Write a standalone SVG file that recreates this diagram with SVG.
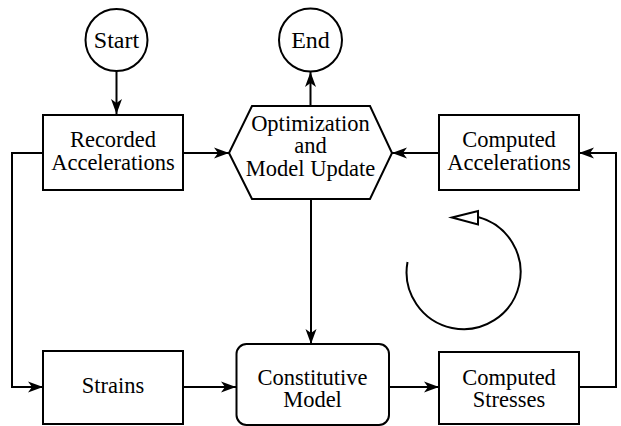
<svg xmlns="http://www.w3.org/2000/svg" width="621" height="426" viewBox="0 0 621 426">
<style>
.shape{fill:#fff;stroke:#000;stroke-width:2}
.conn{fill:none;stroke:#000;stroke-width:2}
.t{font-family:"Liberation Serif","Times New Roman",serif;font-size:22.5px;fill:#000;text-anchor:middle}
.big{font-size:24px}
</style>
<defs>
<marker id="arr" viewBox="-15 -6 16 12" refX="0" refY="0" markerWidth="16" markerHeight="12" markerUnits="userSpaceOnUse" orient="auto">
<path d="M0,0 L-15,-5.5 L-11,0 L-15,5.5 Z" fill="#000"/>
</marker>
</defs>
<rect width="621" height="426" fill="#fff"/>
<g id="connectors">
<path class="conn" d="M116.5 71 V114" marker-end="url(#arr)"/>
<path class="conn" d="M183 153 H229" marker-end="url(#arr)"/>
<path class="conn" d="M310.5 106 V72" marker-end="url(#arr)"/>
<path class="conn" d="M439 153 H392" marker-end="url(#arr)"/>
<path class="conn" d="M43 153 H12 V387 H43" marker-end="url(#arr)"/>
<path class="conn" d="M183 387 H236" marker-end="url(#arr)"/>
<path class="conn" d="M311 199 V344" marker-end="url(#arr)"/>
<path class="conn" d="M389 387 H439" marker-end="url(#arr)"/>
<path class="conn" d="M579 387 H616 V153 H579" marker-end="url(#arr)"/>
</g>
<g id="start">
<circle class="shape" cx="116.5" cy="40" r="31"/>
<text class="t big" x="116.5" y="48">Start</text>
</g>
<g id="end">
<circle class="shape" cx="310.5" cy="40" r="31.5"/>
<text class="t big" x="310.5" y="48">End</text>
</g>
<g id="recorded">
<rect class="shape" x="43" y="115" width="140" height="75"/>
<text class="t" x="113" y="146.5">Recorded</text>
<text class="t" x="113" y="169.5">Accelerations</text>
</g>
<g id="optimization">
<polygon class="shape" points="252,106 370,106 392,153 370,199 252,199 229,153"/>
<text class="t" x="310.5" y="130.5">Optimization</text>
<text class="t" x="310.5" y="153">and</text>
<text class="t" x="310.5" y="176">Model Update</text>
</g>
<g id="computed-accelerations">
<rect class="shape" x="439" y="115" width="140" height="75"/>
<text class="t" x="509" y="146.5">Computed</text>
<text class="t" x="509" y="169.5">Accelerations</text>
</g>
<g id="strains">
<rect class="shape" x="43" y="351" width="140" height="73"/>
<text class="t" x="113" y="393">Strains</text>
</g>
<g id="constitutive">
<rect class="shape" x="236.5" y="344" width="152.5" height="81" rx="10"/>
<text class="t" x="312.5" y="384.5">Constitutive</text>
<text class="t" x="312.5" y="406.5">Model</text>
</g>
<g id="computed-stresses">
<rect class="shape" x="439" y="352" width="140" height="72"/>
<text class="t" x="509" y="384.5">Computed</text>
<text class="t" x="509" y="406.5">Stresses</text>
</g>
<g id="cycle">
<path class="conn" d="M407.5 262 A57 57 0 1 0 478 217"/>
<polygon points="452,217.5 478,211 478,224.5" fill="#fff" stroke="#000" stroke-width="2"/>
</g>
</svg>
